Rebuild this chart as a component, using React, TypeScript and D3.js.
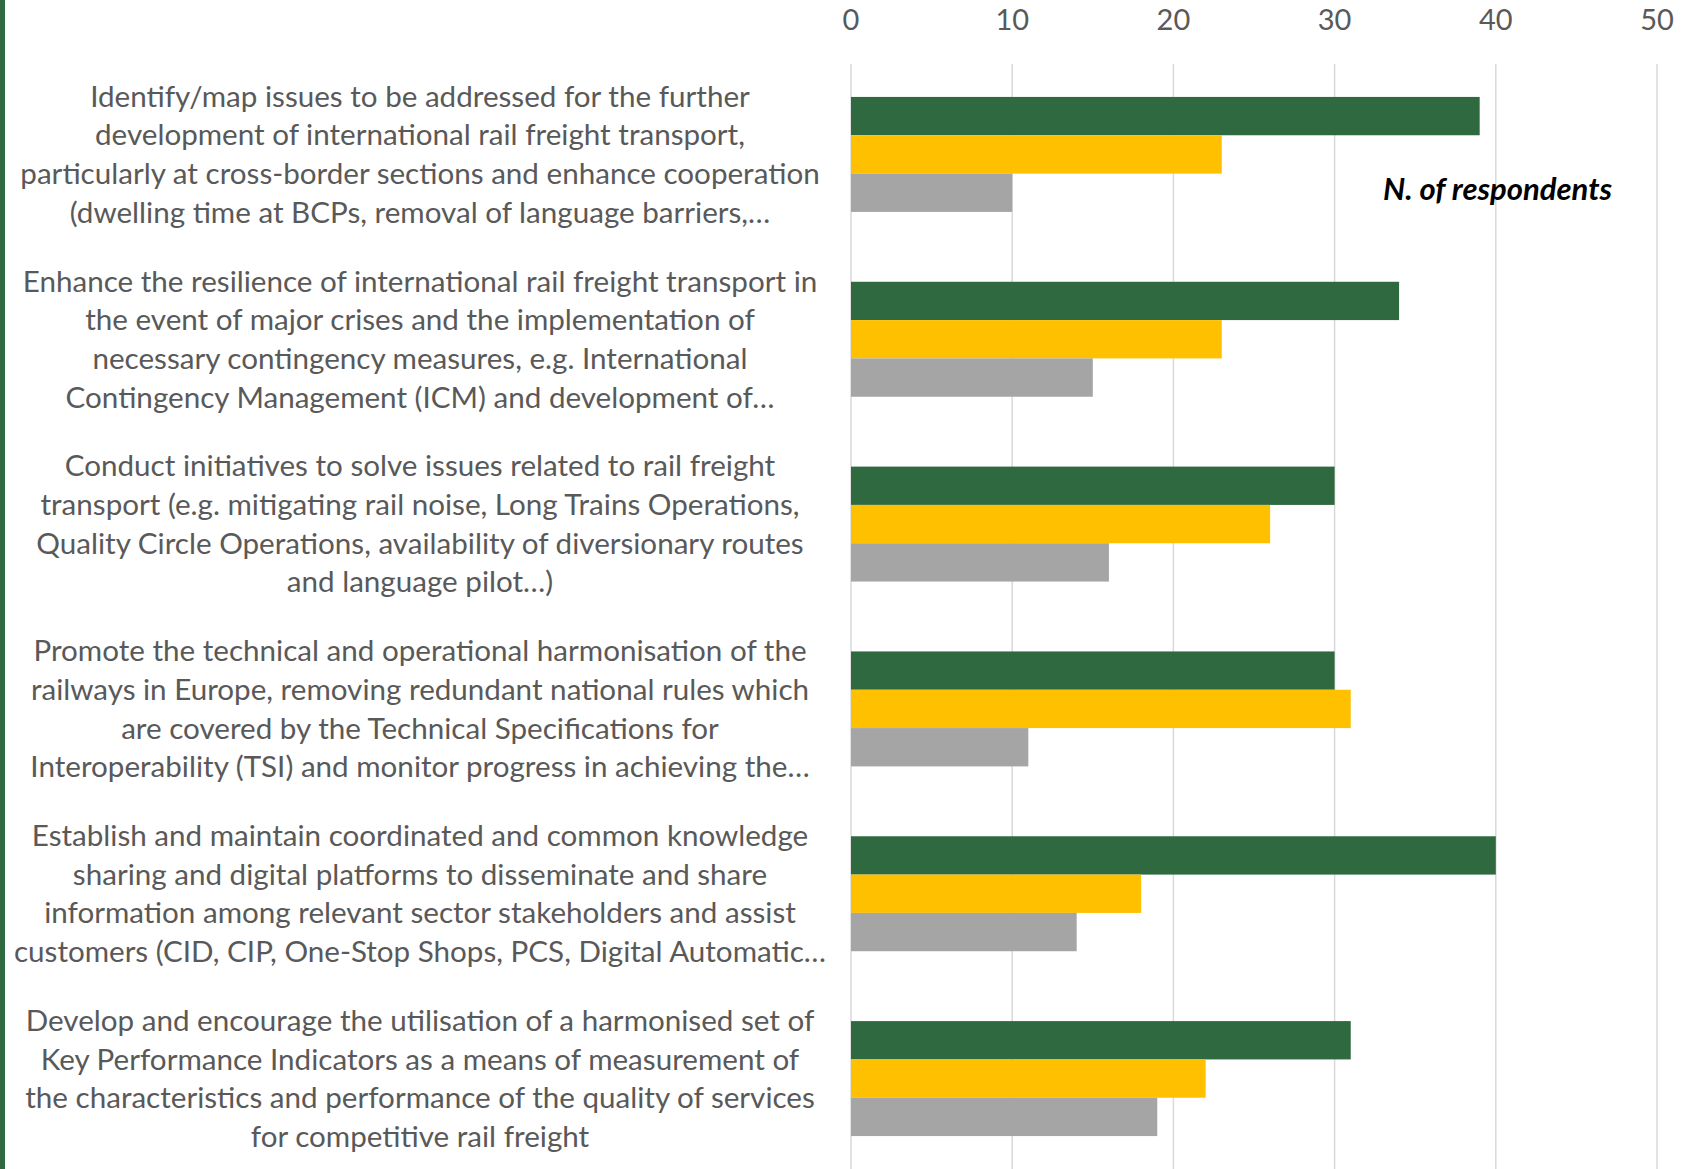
import * as d3 from "d3";
import React from "react";

const categories = [
  ["Identify/map issues to be addressed for the further", "development of international rail freight transport,", "particularly at cross-border sections and enhance cooperation", "(dwelling time at BCPs, removal of language barriers,…"],
  ["Enhance the resilience of international rail freight transport in", "the event of major crises and the implementation of", "necessary contingency measures, e.g. International", "Contingency Management (ICM) and development of…"],
  ["Conduct initiatives to solve issues related to rail freight", "transport (e.g. mitigating rail noise, Long Trains Operations,", "Quality Circle Operations, availability of diversionary routes", "and language pilot…)"],
  ["Promote the technical and operational harmonisation of the", "railways in Europe, removing redundant national rules which", "are covered by the Technical Specifications for", "Interoperability (TSI) and monitor progress in achieving the…"],
  ["Establish and maintain coordinated and common knowledge", "sharing and digital platforms to disseminate and share", "information among relevant sector stakeholders and assist", "customers (CID, CIP, One-Stop Shops, PCS, Digital Automatic…"],
  ["Develop and encourage the utilisation of a harmonised set of", "Key Performance Indicators as a means of measurement of", "the characteristics and performance of the quality of services", "for competitive rail freight"],
];

const seriesNames = ["high", "medium", "low"];
const highValues = [39, 34, 30, 30, 40, 31];
const mediumValues = [23, 23, 26, 31, 18, 22];
const lowValues = [10, 15, 16, 11, 14, 19];
const xTicks = [0, 10, 20, 30, 40, 50];

const COLORS: Record<string, string> = {
  high: "#2F6940",
  medium: "#FFC000",
  low: "#A5A5A5",
};

const W = 1685;
const H = 1169;

export default function App() {
  const seriesValues: Record<string, number[]> = {
    high: highValues,
    medium: mediumValues,
    low: lowValues,
  };

  const x = d3.scaleLinear().domain([0, 50]).range([851, 1657]);
  const y = d3
    .scaleBand<number>()
    .domain(d3.range(categories.length))
    .range([62, 1171])
    .paddingInner(0.378)
    .paddingOuter(0.189);
  const inner = d3
    .scaleBand<string>()
    .domain(seriesNames)
    .range([0, y.bandwidth()]);

  const font = "Lato, 'Noto Sans', sans-serif";
  const labelX = 420;
  const lineH = 38.7;

  return (
    <div style={{ position: "absolute", left: 0, top: 0, width: W, height: H, background: "#fff" }}>
      <svg width={W} height={H} style={{ display: "block" }}>
        <rect x={0} y={0} width={5} height={H} fill="#2F6940" />

        {/* gridlines */}
        {xTicks.map((t) => (
          <line key={t} x1={x(t)} x2={x(t)} y1={64} y2={H} stroke="#D9D9D9" strokeWidth={1.5} />
        ))}

        {/* tick labels */}
        {xTicks.map((t) => (
          <text key={"t" + t} x={x(t)} y={20} dy="0.35em" textAnchor="middle" fill="#595959" fontFamily={font} fontSize={29}>
            {t}
          </text>
        ))}

        {/* bars */}
        {categories.map((_, i) =>
          seriesNames.map((s) => (
            <rect
              key={i + s}
              x={x(0)}
              y={y(i)! + inner(s)!}
              width={x(seriesValues[s][i]) - x(0)}
              height={inner.bandwidth()}
              fill={COLORS[s]}
            />
          ))
        )}

        {/* category labels */}
        {categories.map((lines, i) => {
          const cy = y(i)! + y.bandwidth() / 2;
          return (
            <text key={"c" + i} textAnchor="middle" fill="#595959" fontFamily={font} fontSize={29.6}>
              {lines.map((ln, j) => (
                <tspan key={j} x={labelX} y={cy + (j - (lines.length - 1) / 2) * lineH} dy="0.35em">
                  {ln}
                </tspan>
              ))}
            </text>
          );
        })}

        <text x={1383} y={189} dy="0.35em" fill="#000" fontFamily={font} fontSize={31} fontWeight="bold" fontStyle="italic">
          N. of respondents
        </text>
      </svg>
    </div>
  );
}
